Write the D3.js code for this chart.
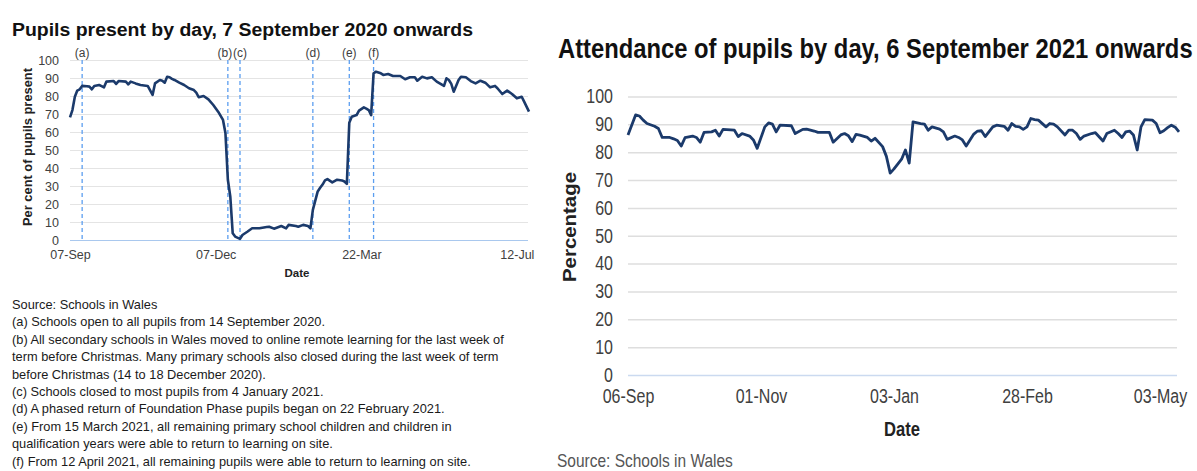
<!DOCTYPE html>
<html>
<head>
<meta charset="utf-8">
<script src="https://cdn.jsdelivr.net/npm/d3@7"></script>
<style>
  body { margin: 0; background: #fff; }
  text { font-family: "Liberation Sans", Arial, sans-serif; }
</style>
</head>
<body>
<div id="chartContainer"></div>
<script>
var width = 1197,
  height = 471;

// left chart: school-day index from 07-Sep-2020, per cent present
var leftDay = [0, 1, 2, 3, 4, 5, 7, 8, 9, 10, 12, 13, 14, 15, 18, 19, 20, 23, 24, 25, 27, 29, 32, 34, 35, 37, 38, 39, 40, 41, 42, 43, 45, 47, 49, 51, 52, 53, 55, 57, 59, 61, 63, 64, 65, 66, 67, 68, 70, 71, 73, 75, 78, 81, 82, 84, 87, 89, 90, 93, 94, 96, 98, 99, 100, 102, 103, 104, 105, 106, 108, 110, 112, 113, 114, 115, 116, 118, 119, 121, 122, 123, 124, 125, 126, 128, 129, 131, 133, 136, 138, 140, 142, 143, 145, 147, 149, 151, 154, 155, 156, 157, 158, 160, 161, 163, 165, 167, 169, 171, 173, 175, 176, 178, 180, 182, 184, 186, 187, 189];
var leftPct = [68.1, 72.2, 79.6, 83, 83.7, 85.6, 85.4, 85.2, 83.7, 85.6, 86.1, 85.5, 84.8, 88, 88.3, 86.7, 88.3, 88, 86.5, 88, 87, 86.1, 85.6, 80.6, 87, 88.9, 88.5, 87.4, 90.7, 90.4, 89.5, 88.9, 87.4, 86.1, 84.3, 83.3, 81.9, 79.3, 80, 78.1, 75, 71.3, 66.7, 59.5, 33.5, 24.2, 3.7, 1.9, 0.6, 2.8, 4.6, 6.5, 6.5, 7.2, 7.4, 6.3, 7.8, 6.5, 8.4, 7.8, 7.4, 8.4, 7.8, 6.5, 16.7, 27, 29, 30.8, 33.1, 33.8, 32, 33.5, 33.1, 32.5, 31.2, 65.2, 68.5, 69.4, 71.9, 73.7, 73, 72.2, 69.4, 92.6, 93.5, 92.6, 91.7, 92.2, 91.1, 91.1, 89.3, 90.4, 90.4, 88.5, 90.7, 89.8, 90.4, 88, 85.6, 89.8, 88.9, 86.7, 82.4, 88.9, 90.7, 90.4, 88.3, 87, 88.5, 87.4, 84.8, 85.6, 84.3, 81.1, 83, 81.1, 78.7, 79.6, 76.9, 71.3];
var leftTickDay = [0, 60, 120, 184];
var leftTickLabel = ["07-Sep", "07-Dec", "22-Mar", "12-Jul"];
var eventDay = [5, 65, 70, 100, 115, 125];
var eventLabel = ["(a)", "(b)", "(c)", "(d)", "(e)", "(f)"];

// right chart: school-day index from 06-Sep-2021, percentage attending
var rightDay = [0, 2, 3, 4, 5, 7, 8, 9, 11, 12, 13, 14, 15, 17, 18, 19, 20, 22, 23, 24, 25, 28, 29, 30, 32, 33, 34, 36, 37, 38, 39, 40, 43, 44, 46, 47, 49, 50, 53, 54, 56, 57, 58, 59, 60, 61, 63, 64, 65, 67, 68, 69, 70, 72, 73, 74, 75, 77, 78, 79, 80, 82, 83, 84, 86, 87, 88, 89, 91, 92, 93, 94, 96, 97, 99, 100, 101, 102, 103, 104, 105, 106, 107, 108, 110, 111, 112, 113, 115, 116, 117, 118, 119, 120, 122, 123, 125, 126, 128, 129, 130, 131, 132, 133, 134, 135, 136, 138, 139, 140, 141, 142, 143, 144, 145];
var rightPct = [86.2, 93.4, 93, 91.5, 90.3, 89.3, 88.5, 85.3, 85.3, 84.8, 84.2, 82.2, 85.2, 85.8, 85.3, 83.6, 87.1, 87.3, 87.9, 85.8, 88.2, 87.9, 85.6, 86.7, 85.8, 84.4, 81.4, 89.1, 90.5, 90.1, 87.3, 89.7, 89.5, 86.7, 88.2, 88.3, 87.6, 87.1, 87.1, 83.6, 86.2, 86.7, 85.9, 83.8, 86.4, 86.1, 85.3, 84, 85, 82, 78.5, 72.5, 74, 77.5, 80.8, 76.1, 90.9, 90.3, 90.1, 87.9, 89.1, 88.3, 87.3, 84.6, 85.8, 85.3, 84.4, 82.2, 86.5, 87.6, 87.7, 85.6, 89.1, 89.7, 89.3, 87.9, 90.3, 89.3, 89.1, 88.2, 89.1, 92.1, 91.7, 91.5, 89.1, 90.3, 90.1, 89.1, 86.2, 87.9, 87.9, 86.7, 84.6, 85.8, 86.7, 87, 84, 86.7, 87.9, 86.7, 85.3, 87.3, 87.6, 86.2, 80.8, 89.1, 91.7, 91.5, 90.3, 87, 87.7, 88.8, 89.7, 89, 87.3];
var rightTickDay = [0, 35, 70, 105, 140];
var rightTickLabel = ["06-Sep", "01-Nov", "03-Jan", "28-Feb", "03-May"];

var yTicks = [0, 10, 20, 30, 40, 50, 60, 70, 80, 90, 100];

var notes = [
  "Source: Schools in Wales",
  "(a) Schools open to all pupils from 14 September 2020.",
  "(b) All secondary schools in Wales moved to online remote learning for the last week of",
  "term before Christmas. Many primary schools also closed during the last week of term",
  "before Christmas (14 to 18 December 2020).",
  "(c) Schools closed to most pupils from 4 January 2021.",
  "(d) A phased return of Foundation Phase pupils began on 22 February 2021.",
  "(e) From 15 March 2021, all remaining primary school children and children in",
  "qualification years were able to return to learning on site.",
  "(f) From 12 April 2021, all remaining pupils were able to return to learning on site."
];

var narrowScale = 0.82;

var svg = d3.select("#chartContainer")
  .append("svg")
  .attr("width", width)
  .attr("height", height);

// condensed text: draw with the normal font then squeeze horizontally to a given width
function squeezedText(parent, x, y, str, size, weight, fill, targetW, anchor) {
  var g = parent.append("g");
  var t = g.append("text")
    .attr("text-anchor", anchor || "start")
    .style("font-size", size + "px")
    .style("font-weight", weight)
    .style("fill", fill)
    .text(str);
  var len = t.node().getComputedTextLength();
  var sx = targetW ? targetW / len : narrowScale;
  g.attr("transform", "translate(" + x + "," + y + ") scale(" + sx + ",1)");
  return g;
}

// ---------- left chart ----------
var xL = d3.scaleLinear().domain([0, 189]).range([70, 529]);
var yL = d3.scaleLinear().domain([0, 100]).range([240, 60]);

var left = svg.append("g").attr("class", "left");

left.append("text")
  .attr("x", 12)
  .attr("y", 36)
  .attr("textLength", 461)
  .attr("lengthAdjust", "spacingAndGlyphs")
  .style("font-size", "19.2px")
  .style("font-weight", "bold")
  .style("fill", "#111")
  .text("Pupils present by day, 7 September 2020 onwards");

var gyL = left.append("g")
  .attr("transform", "translate(70,0)")
  .call(d3.axisLeft(yL).tickValues(yTicks).tickSize(-458).tickPadding(11));
gyL.select(".domain").remove();
gyL.selectAll(".tick line")
  .attr("stroke", function (d) { return d === 0 ? "#a9c8ee" : "#e4e4e4"; })
  .attr("stroke-width", 1);
gyL.selectAll(".tick text")
  .style("font-size", "12.5px")
  .style("fill", "#404040")
  .style("font-family", "'Liberation Sans', Arial, sans-serif");

var gxL = left.append("g")
  .attr("transform", "translate(0,240)")
  .call(d3.axisBottom(xL).tickValues(leftTickDay)
    .tickFormat(function (d, i) { return leftTickLabel[i]; })
    .tickSize(0).tickPadding(10));
gxL.select(".domain").remove();
gxL.selectAll(".tick text")
  .style("font-size", "12.5px")
  .style("fill", "#404040")
  .style("font-family", "'Liberation Sans', Arial, sans-serif");

// event markers
left.selectAll("line.event")
  .data(eventDay)
  .enter()
  .append("line")
  .attr("class", "event")
  .attr("x1", function (d) { return xL(d); })
  .attr("x2", function (d) { return xL(d); })
  .attr("y1", yL(100))
  .attr("y2", yL(0))
  .attr("stroke", "#5b9ef0")
  .attr("stroke-width", 1.3)
  .attr("stroke-dasharray", "4,3");

// labels sit centred over their line, nudged left when the next marker is close
left.selectAll("text.event")
  .data(eventDay)
  .enter()
  .append("text")
  .attr("class", "event")
  .attr("x", function (d, i) {
    var next = eventDay[i + 1];
    var nudge = (next !== undefined && xL(next) - xL(d) < 16) ? -3 : 0;
    return xL(d) + nudge;
  })
  .attr("y", 56.5)
  .attr("text-anchor", "middle")
  .style("font-size", "12px")
  .style("fill", "#404040")
  .text(function (d, i) { return eventLabel[i]; });

left.append("path")
  .datum(leftDay)
  .attr("fill", "none")
  .attr("stroke", "#1b3a6b")
  .attr("stroke-width", 2.6)
  .attr("stroke-linejoin", "round")
  .attr("d", d3.line()
    .x(function (d) { return xL(d); })
    .y(function (d, i) { return yL(leftPct[i]); }));

left.append("text")
  .attr("transform", "translate(32,147) rotate(-90)")
  .attr("text-anchor", "middle")
  .attr("textLength", 158)
  .attr("lengthAdjust", "spacingAndGlyphs")
  .style("font-size", "13px")
  .style("font-weight", "bold")
  .style("fill", "#222")
  .text("Per cent of pupils present");

left.append("text")
  .attr("x", 297)
  .attr("y", 277)
  .attr("text-anchor", "middle")
  .style("font-size", "11.5px")
  .style("font-weight", "bold")
  .style("fill", "#222")
  .text("Date");

left.selectAll("text.note")
  .data(notes)
  .enter()
  .append("text")
  .attr("class", "note")
  .attr("x", 12)
  .attr("y", function (d, i) { return 309 + i * 17.4; })
  .style("font-size", "12.8px")
  .style("fill", "#1a1a1a")
  .text(function (d) { return d; });

// ---------- right chart ----------
var xR = d3.scaleLinear().domain([0, 140]).range([628, 1160]);
var yR = d3.scaleLinear().domain([0, 100]).range([375, 96.5]);

var right = svg.append("g").attr("class", "right");

squeezedText(right, 558, 58, "Attendance of pupils by day, 6 September 2021 onwards", 27, "bold", "#111", 635);

var gyR = right.append("g")
  .attr("transform", "translate(628,0)")
  .call(d3.axisLeft(yR).tickValues(yTicks).tickSize(-549).tickPadding(15));
gyR.select(".domain").remove();
gyR.selectAll(".tick line")
  .attr("stroke", function (d) { return d === 0 ? "#cbdaf0" : "#dedede"; })
  .attr("stroke-width", 1.5);
gyR.selectAll(".tick text")
  .attr("x", -15 / narrowScale)
  .attr("transform", "scale(" + narrowScale + ",1)")
  .style("font-size", "19.5px")
  .style("fill", "#404040");

var gxR = right.append("g")
  .attr("transform", "translate(0,375)")
  .call(d3.axisBottom(xR).tickValues(rightTickDay)
    .tickFormat(function (d, i) { return rightTickLabel[i]; })
    .tickSize(0).tickPadding(14));
gxR.select(".domain").remove();
gxR.selectAll(".tick text")
  .attr("transform", "scale(" + narrowScale + ",1)")
  .style("font-size", "19.5px")
  .style("fill", "#404040");

right.append("path")
  .datum(rightDay)
  .attr("fill", "none")
  .attr("stroke", "#1b3a6b")
  .attr("stroke-width", 2.8)
  .attr("stroke-linejoin", "round")
  .attr("d", d3.line()
    .x(function (d) { return xR(d); })
    .y(function (d, i) { return yR(rightPct[i]); }));

right.append("text")
  .attr("transform", "translate(576,227) rotate(-90)")
  .attr("text-anchor", "middle")
  .attr("textLength", 110)
  .attr("lengthAdjust", "spacingAndGlyphs")
  .style("font-size", "18px")
  .style("font-weight", "bold")
  .style("fill", "#222")
  .text("Percentage");

squeezedText(right, 902, 436, "Date", 19.5, "bold", "#222", 36, "middle");

squeezedText(right, 557, 467, "Source: Schools in Wales", 18, "normal", "#555", 176);
</script>
</body>
</html>
